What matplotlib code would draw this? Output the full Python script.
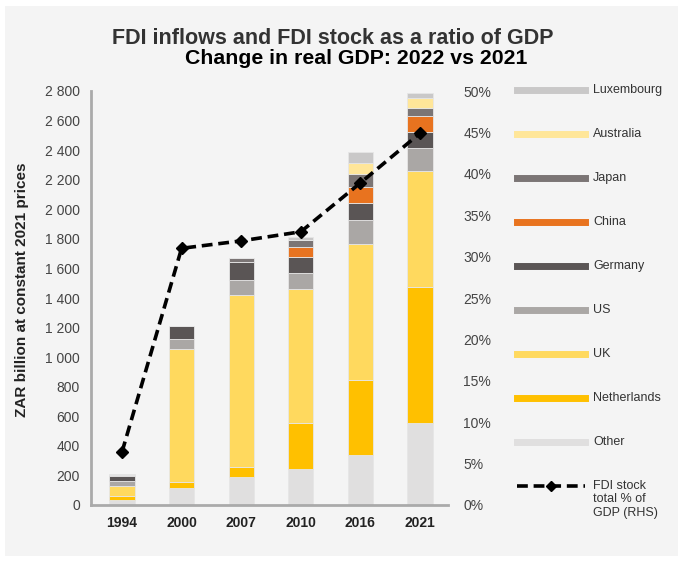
import matplotlib
matplotlib.use("Agg")
import matplotlib.pyplot as plt
from matplotlib.patches import Rectangle
from matplotlib.lines import Line2D
import numpy as np

plt.rcParams['font.family'] = ['Liberation Sans', 'DejaVu Sans']

years = ["1994", "2000", "2007", "2010", "2016", "2021"]
series_names = ["Other", "Netherlands", "UK", "US", "Germany", "China", "Japan", "Australia", "Luxembourg"]
other       = [34, 113, 189, 243, 338, 554]
netherlands = [27, 45, 68, 311, 507, 920]
uk          = [67, 897, 1163, 906, 920, 784]
us          = [34, 67, 101, 109, 162, 156]
germany     = [34, 88, 122, 108, 115, 108]
china       = [0, 0, 0, 67, 108, 108]
japan       = [7, 0, 27, 48, 88, 54]
australia   = [0, 0, 0, 0, 74, 68]
luxembourg  = [7, 0, 0, 20, 75, 34]
fdi_stock_pct = [6.4, 31.0, 31.9, 33.0, 38.9, 44.9]

colors = {
    "Other": "#e0dfdf",
    "Netherlands": "#ffc000",
    "UK": "#ffd95e",
    "US": "#aaa7a5",
    "Germany": "#5a5555",
    "China": "#e8731f",
    "Japan": "#7b7575",
    "Australia": "#ffe699",
    "Luxembourg": "#c9c8c8",
}
data = [other, netherlands, uk, us, germany, china, japan, australia, luxembourg]

W, H = 680, 562
fig = plt.figure(figsize=(W / 100, H / 100), dpi=100)
fig.patch.set_facecolor("white")
fig.patches.append(Rectangle((5 / W, 1 - 556 / H), 673 / W, 550 / H, transform=fig.transFigure,
                             facecolor="#f4f4f4", edgecolor="none", zorder=-10))

ax = fig.add_axes([91 / W, 1 - 505 / H, (448 - 91) / W, (505 - 91) / H])
ax.set_facecolor("none")
x = np.arange(len(years))
bottom = np.zeros(len(years))
for name, vals in zip(series_names, data):
    v = np.array(vals, dtype=float)
    ax.bar(x, v, width=0.42, bottom=bottom, color=colors[name], edgecolor="#e6e6e6",
           linewidth=0.6, zorder=2)
    bottom += v

ax.set_xlim(-0.52, 5.47)
ax.set_ylim(0, 2800)
yt = np.arange(0, 2801, 200)
ax.set_yticks(yt)
ax.set_yticklabels([f"{int(t):,}".replace(",", " ") for t in yt], fontsize=10, color="#444444")
ax.set_xticks(x)
ax.set_xticklabels(years, fontsize=10, fontweight="bold", color="#222222")
ax.tick_params(axis="y", length=0, pad=8)
ax.tick_params(axis="x", length=0, pad=8)
for s in ["top", "right"]:
    ax.spines[s].set_visible(False)
for s in ["left", "bottom"]:
    ax.spines[s].set_color("#aaaaaa")
    ax.spines[s].set_linewidth(2)
fig.text(22 / W, 1 - 290 / H, "ZAR billion at constant 2021 prices", fontsize=11, fontweight="bold",
         color="#222222", rotation=90, ha="center", va="center")

ax2 = ax.twinx()
ax2.set_ylim(0, 50)
ax2.set_yticks(np.arange(0, 51, 5))
ax2.set_yticklabels([f"{t}%" for t in range(0, 51, 5)], fontsize=10, color="#444444")
ax2.tick_params(axis="y", length=0, pad=11)
for s in ax2.spines.values():
    s.set_visible(False)
ax2.plot(x, fdi_stock_pct, color="black", linestyle=(0, (3, 1.6)), linewidth=2.6,
         marker="D", markersize=6, zorder=5)

fig.text(333 / W, 1 - 38 / H, "FDI inflows and FDI stock as a ratio of GDP", ha="center", va="center",
         fontsize=15.5, fontweight="bold", color="#333333")
fig.text(356 / W, 1 - 59 / H, "Change in real GDP: 2022 vs 2021", ha="center", va="center",
         fontsize=15.3, fontweight="bold", color="black")

# legend
legend_order = ["Luxembourg", "Australia", "Japan", "China", "Germany", "US", "UK", "Netherlands", "Other"]
y0 = 90
step = 44
for i, name in enumerate(legend_order):
    yy = 1 - (y0 + i * step) / H
    fig.add_artist(Line2D([517 / W, 585 / W], [yy, yy], color=colors[name], linewidth=5,
                          transform=fig.transFigure))
    fig.text(593 / W, yy, name, fontsize=9, color="#333333", va="center", ha="left")
yy = 1 - (y0 + 9 * step) / H
fig.add_artist(Line2D([517 / W, 585 / W], [yy, yy], color="black", linewidth=2.6,
                      linestyle=(0, (3, 1.6)), transform=fig.transFigure))
fig.add_artist(Line2D([551 / W], [yy], color="black", marker="D", markersize=5,
                      linestyle="none", transform=fig.transFigure))
fig.text(593 / W, yy + 6 / H, "FDI stock\ntotal % of\nGDP (RHS)", fontsize=9, color="#333333",
         va="top", ha="left", linespacing=1.15)

fig.savefig("out.png", dpi=100, facecolor=fig.get_facecolor())
